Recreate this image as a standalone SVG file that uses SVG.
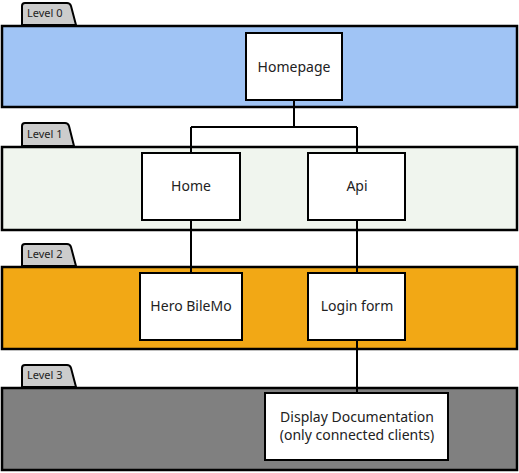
<svg xmlns="http://www.w3.org/2000/svg" width="519" height="473" viewBox="0 0 519 473">
<style>
.band{stroke:#000;stroke-width:2.5}
.tab{fill:#cccccc;stroke:#000;stroke-width:2}
.node{fill:#fff;stroke:#000;stroke-width:2}
.lbl{font-family:"Noto Sans","Liberation Sans",sans-serif;font-size:14px;fill:#222;text-anchor:middle}
.tabt{font-family:"Noto Sans","Liberation Sans",sans-serif;font-size:11px;fill:#222}
.conn{fill:none;stroke:#000;stroke-width:2}
</style>
<rect width="519" height="473" fill="#fff"/>
<g id="level0">
<path class="tab" d="M22,25 V6 Q22,3 25,3 H67 Q70,3 71,6 L76,25 Z"/>
<text class="tabt" x="27" y="17">Level 0</text>
<rect class="band" x="2" y="26" width="515" height="81" fill="#a0c4f5"/>
</g>
<g id="level1">
<path class="tab" d="M22,146 V126 Q22,123 25,123 H65 Q68,123 69,126 L74,146 Z"/>
<text class="tabt" x="27" y="138">Level 1</text>
<rect class="band" x="2" y="147" width="515" height="83" fill="#f0f5ee"/>
</g>
<g id="level2">
<path class="tab" d="M22,266 V247 Q22,244 25,244 H67 Q70,244 71,247 L76,266 Z"/>
<text class="tabt" x="27" y="258">Level 2</text>
<rect class="band" x="2" y="267" width="515" height="82" fill="#f2a815"/>
</g>
<g id="level3">
<path class="tab" d="M22,387 V368 Q22,365 25,365 H67 Q70,365 71,368 L76,387 Z"/>
<text class="tabt" x="27" y="379">Level 3</text>
<rect class="band" x="2" y="388" width="515" height="82" fill="#808080"/>
</g>
<g id="connectors">
<path class="conn" d="M294,100 V127 M191,127 H357 M191,127 V153 M357,127 V153"/>
<path class="conn" d="M191,220 V273"/>
<path class="conn" d="M357,220 V273"/>
<path class="conn" d="M357,340 V393"/>
</g>
<g id="homepage">
<rect class="node" x="246" y="33" width="96" height="67"/>
<text class="lbl" x="294" y="72">Homepage</text>
</g>
<g id="home">
<rect class="node" x="142" y="153" width="98" height="67"/>
<text class="lbl" x="191" y="191">Home</text>
</g>
<g id="api">
<rect class="node" x="308" y="153" width="97" height="67"/>
<text class="lbl" x="357" y="191">Api</text>
</g>
<g id="hero">
<rect class="node" x="140" y="273" width="102" height="67"/>
<text class="lbl" x="191" y="311">Hero BileMo</text>
</g>
<g id="login">
<rect class="node" x="308" y="273" width="97" height="67"/>
<text class="lbl" x="357" y="311">Login form</text>
</g>
<g id="display">
<rect class="node" x="265" y="393" width="183" height="67"/>
<text class="lbl" x="357" y="422">Display Documentation</text>
<text class="lbl" x="357" y="440">(only connected clients)</text>
</g>
</svg>
